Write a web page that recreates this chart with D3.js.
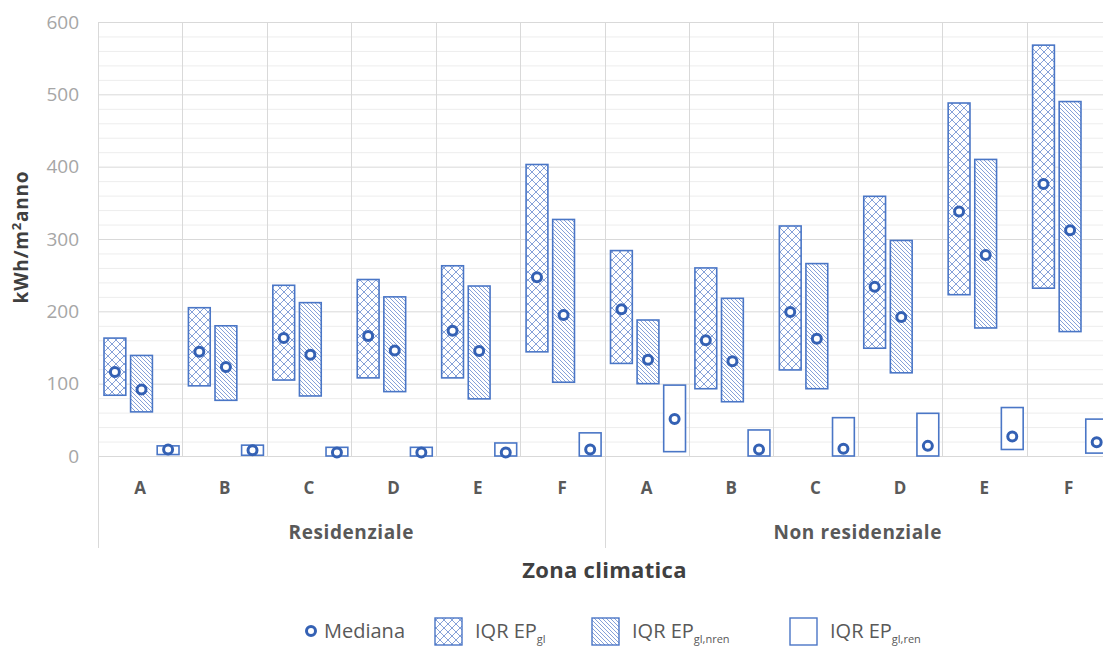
<!DOCTYPE html>
<html><head><meta charset="utf-8">
<script src="https://cdn.jsdelivr.net/npm/d3@7"></script>
<style>
html,body{margin:0;padding:0;background:#fff;overflow:hidden;}
text{font-family:"Open Sans",Lato,sans-serif;}
</style></head>
<body><svg id="chart" width="1103" height="648"></svg>
<script>
const zones = ["A","B","C","D","E","F"];
const groups = ["Residenziale","Non residenziale"];
const yTicks = [0,100,200,300,400,500,600];
const seriesNames = ["gl","nren","ren"];

const glHigh  = [163,205,236,244,263,403, 284,260,318,359,488,568];
const glLow   = [84,97,105,108,108,144, 128,93,119,149,223,232];
const glMed   = [116,144,163,166,173,247, 203,160,199,234,338,376];
const nrenHigh= [139,180,212,220,235,327, 188,218,266,298,410,490];
const nrenLow = [61,77,83,89,79,102, 100,75,93,115,177,172];
const nrenMed = [92,123,140,146,145,195, 133,131,162,192,278,312];
const renHigh = [14,15,12,12,18,32, 98,36,53,59,67,51];
const renLow  = [2,1,0,0,0,0, 6,0,0,0,9,4];
const renMed  = [9,8,5,5,5,9, 51,9,10,14,27,19];

(function(){
const svg = d3.select("#chart");
const pLeft = 98, pRight = 1111, pTop = 22, pBottom = 456;

const cats = [];
groups.forEach((g,gi)=>zones.forEach((z,zi)=>cats.push({key:g+"|"+z, zone:z, group:g, i:gi*6+zi})));

const x0 = d3.scaleBand().domain(cats.map(c=>c.key)).range([pLeft,pRight]).padding(0);
const x1 = d3.scaleBand().domain(seriesNames).range([6,81]).paddingInner(0.18);
const y = d3.scaleLinear().domain([0,600]).range([pBottom,pTop]);

// patterns
const defs = svg.append("defs");
const pc = "#86a1d8";
const p1 = defs.append("pattern").attr("id","cross").attr("patternUnits","userSpaceOnUse")
  .attr("width",8).attr("height",8);
p1.append("rect").attr("width",8).attr("height",8).attr("fill","#fff");
p1.append("path").attr("d","M0,0L8,8M8,0L0,8").attr("stroke",pc).attr("stroke-width",1);
const p2 = defs.append("pattern").attr("id","diag").attr("patternUnits","userSpaceOnUse")
  .attr("width",4).attr("height",4);
p2.append("rect").attr("width",4).attr("height",4).attr("fill","#fff");
p2.append("path").attr("d","M0,0L4,4M-1,3L1,5M3,-1L5,1").attr("stroke",pc).attr("stroke-width",1);

// grid horizontal
const minor = d3.range(0,601,20);
svg.append("g").selectAll("line").data(minor).join("line")
  .attr("x1",pLeft).attr("x2",pRight)
  .attr("y1",d=>y(d)+0.5).attr("y2",d=>y(d)+0.5)
  .attr("stroke",d=>d%100===0?"#d9d9d9":"#ededed").attr("stroke-width",1);

// vertical category lines
const bounds = cats.map(c=>x0(c.key)).concat([pRight]);
svg.append("g").selectAll("line").data(bounds).join("line")
  .attr("x1",d=>Math.round(d)+0.5).attr("x2",d=>Math.round(d)+0.5)
  .attr("y1",pTop).attr("y2",(d,i)=>(i===0||i===6||i===12)?548:pBottom)
  .attr("stroke","#d9d9d9").attr("stroke-width",1);

// y axis labels
const yAxis = d3.axisLeft(y).tickValues(yTicks).tickSize(0).tickPadding(0);
const ya = svg.append("g").attr("transform","translate(79,0)").call(yAxis);
ya.select(".domain").remove();
ya.selectAll("text").attr("font-size",19).attr("fill","#a6a6a6").attr("font-family","'Open Sans',sans-serif");

// bars
function drawSeries(name, hi, lo, fill){
  svg.append("g").selectAll("rect").data(cats).join("rect")
    .attr("x",c=>x0(c.key)+x1(name))
    .attr("width",x1.bandwidth())
    .attr("y",c=>y(hi[c.i]))
    .attr("height",c=>y(lo[c.i])-y(hi[c.i]))
    .attr("fill",fill).attr("stroke","#4a76c6").attr("stroke-width",1.6);
}
drawSeries("gl",glHigh,glLow,"url(#cross)");
drawSeries("nren",nrenHigh,nrenLow,"url(#diag)");
drawSeries("ren",renHigh,renLow,"#fff");

function drawMed(name, med){
  svg.append("g").selectAll("circle").data(cats).join("circle")
    .attr("cx",c=>x0(c.key)+x1(name)+x1.bandwidth()/2)
    .attr("cy",c=>y(med[c.i]))
    .attr("r",4.5).attr("fill","#fff").attr("stroke","#3461b4").attr("stroke-width",3);
}
drawMed("gl",glMed); drawMed("nren",nrenMed); drawMed("ren",renMed);

// category labels
svg.append("g").selectAll("text").data(cats).join("text")
  .attr("x",c=>x0(c.key)+x0.bandwidth()/2).attr("y",494)
  .attr("text-anchor","middle").attr("font-size",17).attr("font-weight","bold")
  .attr("fill","#595959").text(c=>c.zone);

// group labels
svg.append("g").selectAll("text").data(groups).join("text")
  .attr("x",(g,gi)=>(bounds[gi*6]+bounds[gi*6+6])/2).attr("y",539)
  .attr("text-anchor","middle").attr("font-size",19).attr("font-weight","bold")
  .attr("letter-spacing",0.6).attr("fill","#595959").text(g=>g);

// axis titles
svg.append("text").attr("x",(pLeft+pRight)/2).attr("y",578).attr("text-anchor","middle")
  .attr("font-size",22).attr("font-weight","bold").attr("letter-spacing",0.3)
  .attr("fill","#404040").text("Zona climatica");
const yt = svg.append("text").attr("transform",`translate(28,${(pTop+pBottom)/2 - 2}) rotate(-90)`)
  .attr("text-anchor","middle").attr("font-size",19).attr("font-weight","bold")
  .attr("letter-spacing",0.8).attr("fill","#404040");
yt.append("tspan").text("kWh/m");
yt.append("tspan").attr("font-size",13).attr("dy",-7).text("2");
yt.append("tspan").attr("dy",7).text("anno");

// legend
const lg = svg.append("g");
lg.append("circle").attr("cx",311).attr("cy",631).attr("r",4.5).attr("fill","#fff")
  .attr("stroke","#3461b4").attr("stroke-width",3);
lg.append("text").attr("x",324).attr("y",638).attr("font-size",20).attr("fill","#595959").text("Mediana");
const legItems = [
  {x:435, fill:"url(#cross)", sub:"gl"},
  {x:592, fill:"url(#diag)", sub:"gl,nren"},
  {x:790, fill:"#fff", sub:"gl,ren"}
];
legItems.forEach(it=>{
  lg.append("rect").attr("x",it.x).attr("y",618).attr("width",27).attr("height",27)
    .attr("fill",it.fill).attr("stroke","#4a76c6").attr("stroke-width",1.4);
  const t = lg.append("text").attr("x",it.x+40).attr("y",638).attr("font-size",20).attr("fill","#595959");
  t.append("tspan").text("IQR EP");
  t.append("tspan").attr("font-size",11).attr("dy",5).text(it.sub);
});
})();
</script></body></html>
